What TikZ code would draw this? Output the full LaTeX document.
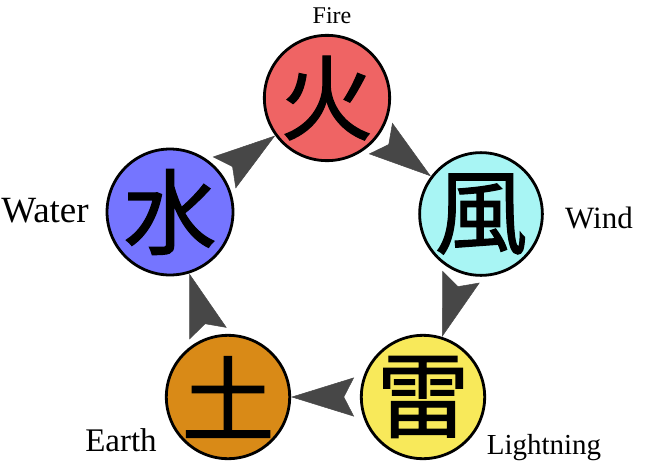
\documentclass[tikz,border=0pt]{standalone}
\usepackage{fontspec}
\setmainfont{Liberation Serif}
\newfontfamily\cjk[FakeBold=1.2]{Noto Sans CJK JP}
\usetikzlibrary{arrows.meta,positioning}

\definecolor{firered}{HTML}{EF6464}
\definecolor{windcyan}{HTML}{A8F5F4}
\definecolor{boltyellow}{HTML}{F8E95A}
\definecolor{earthorange}{HTML}{D98A17}
\definecolor{waterblue}{HTML}{7575FF}
\definecolor{arrowgrey}{HTML}{474747}

\begin{document}
\begin{tikzpicture}[
    x=1pt, y=-1pt,
    element/.style={circle, draw=black, line width=2.8pt, minimum size=122pt, inner sep=0pt, font=\cjk\fontsize{93}{93}\selectfont},
    caption/.style={anchor=base, inner sep=0pt},
    cycle/.style={-{Stealth[length=63pt, width=39pt, inset=10pt]}, draw=arrowgrey, line width=0.5pt, shorten <=22pt},
]
\useasboundingbox (0,0) rectangle (647,466);

% The five elements
\node[element, fill=firered] (fire) at (327,98) {火};
\node[element, fill=windcyan] (wind) at (481,214) {風};
\node[element, fill=boltyellow] (bolt) at (423,397) {雷};
\node[element, fill=earthorange] (earth) at (228,397) {土};
\node[element, fill=waterblue] (water) at (170,212) {水};

% Names
\node[caption, font=\fontsize{24}{24}\selectfont] (firename) at (332,23) {Fire};
\node[caption, font=\fontsize{31}{31}\selectfont] (windname) at (599,228) {Wind};
\node[caption, font=\fontsize{29}{29}\selectfont] (boltname) at (544,454) {Lightning};
\node[caption, font=\fontsize{33}{33}\selectfont] (earthname) at (121,451) {Earth};
\node[caption, font=\fontsize{37}{37}\selectfont] (watername) at (45,222) {Water};

% Cycle
\draw[cycle] (fire) -- (wind);
\draw[cycle] (wind) -- (bolt);
\draw[cycle] (bolt) -- (earth);
\draw[cycle] (earth) -- (water);
\draw[cycle] (water) -- (fire);

\end{tikzpicture}
\end{document}
